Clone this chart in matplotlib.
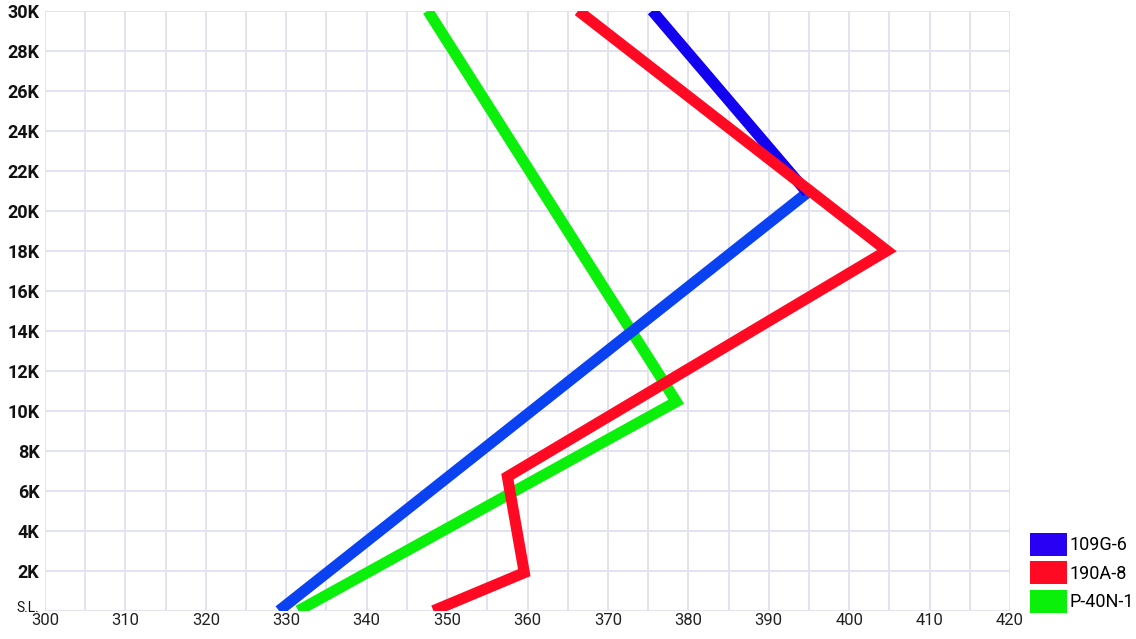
import matplotlib
matplotlib.use("Agg")
import matplotlib.pyplot as plt
from matplotlib.patches import Patch
from matplotlib.transforms import ScaledTranslation

# ---- data ----
series_names = ["109G-6", "190A-8", "P-40N-1"]
g6_speed = [329.1, 394.8, 375.5]
g6_alt = [0, 20.9, 30]
a8_speed = [348.3, 359.6, 357.5, 404.7, 366.3]
a8_alt = [0, 1.9, 6.7, 18, 30]
p40_speed = [331.5, 378.5, 347.6]
p40_alt = [0, 10.45, 30]

x_ticks = [300, 310, 320, 330, 340, 350, 360, 370, 380, 390, 400, 410, 420]
y_ticks = [0, 2, 4, 6, 8, 10, 12, 14, 16, 18, 20, 22, 24, 26, 28, 30]
y_labels = ["S.L.", "2K", "4K", "6K", "8K", "10K", "12K", "14K", "16K",
            "18K", "20K", "22K", "24K", "26K", "28K", "30K"]

legend_colors = ["#2a00f5", "#ff0a22", "#0af00a"]

plt.rcParams['font.family'] = ['Roboto', 'DejaVu Sans']

fig = plt.figure(figsize=(11.36, 6.39), dpi=100)
ax = fig.add_axes([45/1136, (639-610.7)/639, 965/1136, 600/639])

lw = 8.0
kw = dict(lw=lw, solid_capstyle="butt", solid_joinstyle="miter")
ax.plot(g6_speed[:2], g6_alt[:2], color="#0a42f2", zorder=3, **kw)
ax.plot(g6_speed[1:], g6_alt[1:], color="#1200ee", zorder=3, **kw)
ax.plot(a8_speed, a8_alt, color="#ff0a22", zorder=4, **kw)
ax.plot(p40_speed, p40_alt, color="#0af00a", zorder=2, **kw)

ax.set_xlim(300, 420)
ax.set_ylim(0, 30)
ax.set_xticks(x_ticks)
ax.set_xticks([v + 5 for v in x_ticks[:-1]], minor=True)
ax.set_yticks(y_ticks)
ax.set_yticklabels(y_labels)
ax.grid(True, which="both", color="#e3e3f0", lw=1.4, zorder=0)
for s in ax.spines.values():
    s.set_visible(False)
ax.tick_params(axis="both", which="both", length=0)
ax.tick_params(axis="x", labelsize=12, pad=2, colors="#222222")
ax.tick_params(axis="y", labelsize=13, pad=4, colors="#111111")
for lab in ax.get_yticklabels():
    lab.set_fontweight("semibold")
sl = ax.get_yticklabels()[0]
sl.set_fontsize(10)
sl.set_fontweight("normal")
sl.set_transform(sl.get_transform() + ScaledTranslation(0, 4/100, fig.dpi_scale_trans))
ax.set_axisbelow(True)

handles = [Patch(facecolor=c, edgecolor="none") for c in legend_colors]
fig.legend(handles, series_names, loc="lower left",
           bbox_to_anchor=(1030/1136, 26/639), frameon=False,
           fontsize=13, handlelength=2.05, handleheight=1.6,
           labelspacing=0.3, handletextpad=0.12, borderpad=0,
           borderaxespad=0)

fig.savefig("out.png", dpi=100)
